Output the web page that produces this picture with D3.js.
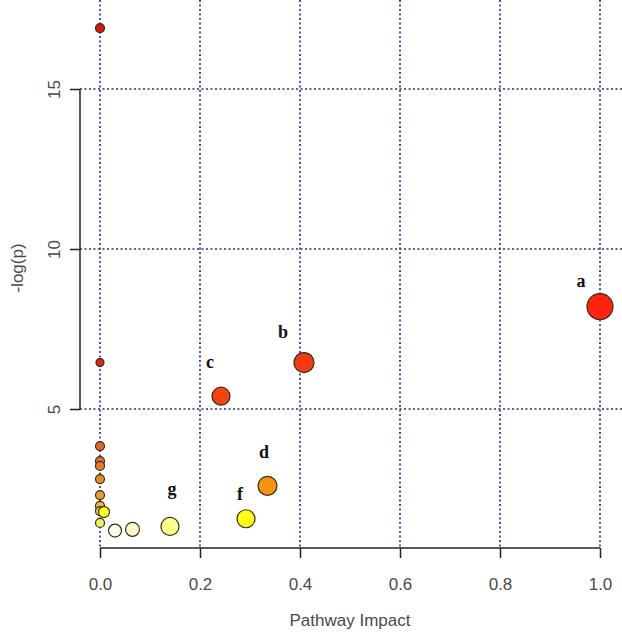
<!DOCTYPE html>
<html><head><meta charset="utf-8">
<script src="https://cdn.jsdelivr.net/npm/d3@7"></script>
<style>body{margin:0;background:#fff}svg{display:block}</style>
</head><body>
<script>
// Pathway impact (x) and -log(p) (y)
const impact = [0, 0, 1.0, 0.408, 0.242, 0, 0, 0, 0.335, 0, 0, 0, 0, 0.008, 0.292, 0, 0.14, 0.065, 0.03];
const logp   = [16.9, 6.45, 8.2, 6.45, 5.4, 3.84, 3.37, 3.22, 2.6, 2.81, 2.31, 1.97, 1.81, 1.78, 1.57, 1.44, 1.33, 1.24, 1.2];
const radius = [4.5, 4, 13, 10, 9, 4.5, 4.5, 4.5, 9.5, 4.5, 4.5, 4.5, 4.5, 5.5, 9, 4.5, 9, 7, 6.5];
const fills  = ["#cc1a12", "#d42a12", "#ff2410", "#f53a12", "#f54412", "#e2662a", "#e6762a", "#e87a2a", "#f5950e", "#e8882e", "#e8a032", "#e8b840", "#ead048", "#ffff22", "#ffff14", "#eef070", "#ffff8a", "#fbfbc6", "#fffff0"];

const labelText = ["a", "b", "c", "d", "f", "g"];
const labelX = [0.962, 0.366, 0.22, 0.328, 0.28, 0.144];
const labelY = [8.81, 7.22, 6.28, 3.47, 2.16, 2.31];

const xTicks = [0, 0.2, 0.4, 0.6, 0.8, 1.0];
const yTicks = [5, 10, 15];

const W = 622, H = 634;
const svg = d3.select("body").append("svg").attr("width", W).attr("height", H);

const x = d3.scaleLinear().domain([-0.04, 1.04]).range([80, 620]);
const y = d3.scaleLinear().domain([0.65625, 17.53125]).range([548, 8]);

const grid = "#2a2a9a";
// vertical grid
svg.append("g").selectAll("line").data(xTicks).join("line")
  .attr("x1", d => x(d)).attr("x2", d => x(d)).attr("y1", 0).attr("y2", 548)
  .attr("stroke", grid).attr("stroke-width", 1.6).attr("stroke-dasharray", "2,2.5");
// horizontal grid
svg.append("g").selectAll("line").data(yTicks).join("line")
  .attr("x1", 80).attr("x2", W).attr("y1", d => y(d)).attr("y2", d => y(d))
  .attr("stroke", grid).attr("stroke-width", 1.6).attr("stroke-dasharray", "2,2.5");

// axes
const xAxis = svg.append("g").attr("transform", "translate(0,548)")
  .call(d3.axisBottom(x).tickValues(xTicks).tickFormat(d3.format(".1f")).tickSize(10).tickSizeOuter(0));
xAxis.select(".domain").remove();
xAxis.append("line").attr("x1", x(0)).attr("x2", x(1)).attr("stroke", "#222").attr("stroke-width", 1.5);
xAxis.selectAll(".tick line").attr("stroke", "#222").attr("stroke-width", 1.5);
xAxis.selectAll(".tick text").attr("y", 0).attr("dy", "42px")
  .style("font-family", "Liberation Sans, Arial, sans-serif").style("font-size", "17px").attr("fill", "#4a4a4a");

const yAxis = svg.append("g").attr("transform", "translate(80,0)")
  .call(d3.axisLeft(y).tickValues(yTicks).tickSize(10).tickSizeOuter(0));
yAxis.select(".domain").remove();
yAxis.append("line").attr("y1", y(5)).attr("y2", y(15)).attr("stroke", "#222").attr("stroke-width", 1.5);
yAxis.selectAll(".tick line").attr("stroke", "#222").attr("stroke-width", 1.5);
yAxis.selectAll(".tick text")
  .attr("x", null).attr("dy", null)
  .attr("transform", "translate(-20,0) rotate(-90)")
  .attr("text-anchor", "middle").attr("y", 0)
  .style("font-family", "Liberation Sans, Arial, sans-serif").style("font-size", "17px").attr("fill", "#4a4a4a");

// titles
svg.append("text").attr("x", 350).attr("y", 626).attr("text-anchor", "middle")
  .style("font-family", "Liberation Sans, Arial, sans-serif").style("font-size", "17px").attr("fill", "#4a4a4a")
  .text("Pathway Impact");
svg.append("text").attr("transform", "translate(23,268) rotate(-90)").attr("text-anchor", "middle")
  .style("font-family", "Liberation Sans, Arial, sans-serif").style("font-size", "17px").attr("fill", "#4a4a4a")
  .text("-log(p)");

// points
const pts = impact.map((d, i) => ({x: d, y: logp[i], r: radius[i], c: fills[i]}));
svg.append("g").selectAll("circle").data(pts).join("circle")
  .attr("cx", d => x(d.x)).attr("cy", d => y(d.y)).attr("r", d => d.r)
  .attr("fill", d => d.c).attr("stroke", "#3a2a1a").attr("stroke-width", 1.2);

// labels
svg.append("g").selectAll("text").data(labelText).join("text")
  .attr("x", (d, i) => x(labelX[i])).attr("y", (d, i) => y(labelY[i]))
  .attr("text-anchor", "middle")
  .style("font-family", "Liberation Serif, Times New Roman, serif").style("font-weight", "bold").style("font-size", "18px")
  .attr("fill", "#111").text(d => d);
</script>
</body></html>
